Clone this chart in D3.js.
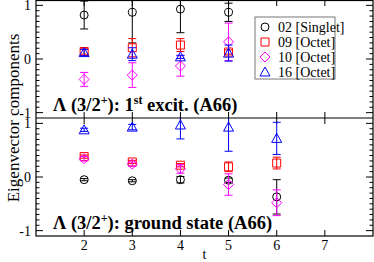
<!DOCTYPE html>
<html>
<head>
<meta charset="utf-8">
<script src="https://cdn.jsdelivr.net/npm/d3@7"></script>
<style>
  body { margin: 0; background: #fff; }
  text { font-family: "Liberation Serif", "DejaVu Serif", serif; }
</style>
</head>
<body>
<div id="chart"></div>
<script>
//time slices
const tVals = [2, 3, 4, 5, 6];
const xTicks = [2, 3, 4, 5, 6, 7];
const yTicks = [-1, 0, 1];

//series names for legend
const seriesNames = ["02 [Singlet]", "09 [Octet]", "10 [Octet]", "16 [Octet]"];
const seriesColors = ["#000000", "#ff0000", "#ff00ff", "#0000ff"];
const seriesShapes = ["circle", "square", "diamond", "triangle"];

//top panel: 1st excited state (no t=6 point)
const excit02 = [0.82, 0.87, 0.93, 0.87];
const excit02Err = [0.26, 0.57, 0.44, 0.17];
const excit09 = [0.14, 0.21, 0.26, 0.13];
const excit09Err = [0.05, 0.17, 0.12, 0.04];
const excit10 = [-0.38, -0.30, -0.13, 0.32];
const excit10Err = [0.13, 0.23, 0.19, 0.35];
const excit16 = [0.12, 0.09, 0.04, 0.11];
const excit16Err = [0.06, 0.12, 0.03, 0.15];

//bottom panel: ground state
const ground02 = [-0.05, -0.07, -0.05, -0.06, -0.37];
const ground02Err = [0.02, 0.02, 0.06, 0.04, 0.32];
const ground09 = [0.38, 0.28, 0.22, 0.19, 0.26];
const ground09Err = [0.03, 0.03, 0.03, 0.09, 0.11];
const ground10 = [0.34, 0.24, 0.15, -0.14, -0.48];
const ground10Err = [0.04, 0.04, 0.08, 0.20, 0.24];
const ground16 = [0.88, 0.93, 0.97, 0.93, 0.72];
const ground16Err = [0.03, 0.05, 0.26, 0.45, 0.30];

const W = 374, H = 262;
const plotLeft = 36, plotRight = 373, plotTop = 0, plotMid = 118, plotBottom = 236;

var svg = d3.select("#chart").append("svg")
    .attr("width", W)
    .attr("height", H);

var x = d3.scaleLinear().domain([1, 8]).range([plotLeft, plotRight]);

//build one panel
function drawPanel(id, y0, y1, series, errs, label) {
    var y = d3.scaleLinear().domain([-1.1, 1.1]).range([y1, y0]);
    var g = svg.append("g");

    svg.append("clipPath").attr("id", id)
        .append("rect")
        .attr("x", plotLeft).attr("y", y0)
        .attr("width", plotRight - plotLeft).attr("height", y1 - y0);

    //minor y ticks every 0.1, both sides
    var minor = d3.range(-10, 11).map(d => d / 10);
    minor.forEach(function (v) {
        var major = yTicks.indexOf(v) >= 0;
        var len = major ? 7 : 3.5;
        g.append("line").attr("x1", plotLeft).attr("x2", plotLeft + len)
            .attr("y1", y(v)).attr("y2", y(v))
            .attr("stroke", "#000").attr("stroke-width", 1);
        g.append("line").attr("x1", plotRight).attr("x2", plotRight - len)
            .attr("y1", y(v)).attr("y2", y(v))
            .attr("stroke", "#000").attr("stroke-width", 1);
    });

    //x ticks top and bottom of panel
    xTicks.forEach(function (t) {
        g.append("line").attr("x1", x(t)).attr("x2", x(t))
            .attr("y1", y0).attr("y2", y0 + 6)
            .attr("stroke", "#000");
        g.append("line").attr("x1", x(t)).attr("x2", x(t))
            .attr("y1", y1).attr("y2", y1 - 6)
            .attr("stroke", "#000");
    });

    //y tick labels
    g.selectAll("text.ytick")
        .data(yTicks)
        .enter()
        .append("text")
        .attr("class", "ytick")
        .attr("x", plotLeft - 5)
        .attr("y", d => y(d) + 5)
        .attr("text-anchor", "end")
        .attr("font-size", 14)
        .text(d => d == -1 ? "-1" : d);

    //panel label
    g.append("text")
        .attr("x", 53)
        .attr("y", y1 - 7)
        .attr("font-size", 18.5)
        .attr("font-family", "'Liberation Serif', serif")
        .attr("font-weight", "bold")
        .html(label);

    //error bars and markers
    var pg = g.append("g").attr("clip-path", "url(#" + id + ")");
    series.forEach(function (vals, s) {
        var col = seriesColors[s];
        vals.forEach(function (v, i) {
            var t = tVals[i];
            var e = errs[s][i];
            var cx = x(t);
            pg.append("line").attr("x1", cx).attr("x2", cx)
                .attr("y1", y(v + e)).attr("y2", y(v - e))
                .attr("stroke", col).attr("stroke-width", 1);
            [v + e, v - e].forEach(function (c) {
                pg.append("line").attr("x1", cx - 4).attr("x2", cx + 4)
                    .attr("y1", y(c)).attr("y2", y(c))
                    .attr("stroke", col).attr("stroke-width", 1);
            });
            drawMarker(pg, seriesShapes[s], cx, y(v), col);
        });
    });
}

function drawMarker(g, shape, cx, cy, col) {
    var p;
    if (shape == "circle") {
        g.append("circle").attr("cx", cx).attr("cy", cy).attr("r", 4)
            .attr("fill", "none").attr("stroke", col);
        return;
    }
    if (shape == "square") {
        p = `M${cx - 4},${cy - 4}h8v8h-8z`;
    } else if (shape == "diamond") {
        p = `M${cx},${cy - 5}L${cx + 5},${cy}L${cx},${cy + 5}L${cx - 5},${cy}z`;
    } else {
        p = `M${cx},${cy - 5}L${cx + 5},${cy + 4}L${cx - 5},${cy + 4}z`;
    }
    g.append("path").attr("d", p).attr("fill", "none").attr("stroke", col);
}

drawPanel("clipTop", plotTop, plotMid,
    [excit02, excit09, excit10, excit16],
    [excit02Err, excit09Err, excit10Err, excit16Err],
    'Λ (3/2<tspan dy="-7" font-size="12">+</tspan><tspan dy="7">): 1</tspan><tspan dy="-7" font-size="12">st</tspan><tspan dy="7"> excit. (A66)</tspan>');
drawPanel("clipBot", plotMid, plotBottom,
    [ground02, ground09, ground10, ground16],
    [ground02Err, ground09Err, ground10Err, ground16Err],
    'Λ (3/2<tspan dy="-7" font-size="12">+</tspan><tspan dy="7">): ground state (A66)</tspan>');

//frame
svg.append("rect")
    .attr("x", plotLeft).attr("y", plotTop + 0.5)
    .attr("width", plotRight - plotLeft).attr("height", plotBottom - plotTop - 0.5)
    .attr("fill", "none").attr("stroke", "#000").attr("stroke-width", 1.2);
svg.append("line")
    .attr("x1", plotLeft).attr("x2", plotRight).attr("y1", plotMid).attr("y2", plotMid)
    .attr("stroke", "#000").attr("stroke-width", 1.2);

//x tick labels
svg.selectAll("text.xtick")
    .data(xTicks)
    .enter()
    .append("text")
    .attr("class", "xtick")
    .attr("x", d => x(d))
    .attr("y", plotBottom + 14)
    .attr("text-anchor", "middle")
    .attr("font-size", 14)
    .text(d => d);

//axis labels
svg.append("text")
    .attr("x", x(4.5))
    .attr("y", 259)
    .attr("text-anchor", "middle")
    .attr("font-size", 14)
    .text("t");
svg.append("text")
    .attr("transform", `translate(19, ${(plotTop + plotBottom) / 2}) rotate(-90)`)
    .attr("text-anchor", "middle")
    .attr("font-size", 17)
    .text("Eigenvector components");

//legend
var lg = svg.append("g");
lg.append("rect")
    .attr("x", 255).attr("y", 17)
    .attr("width", 80).attr("height", 62)
    .attr("fill", "#fff").attr("stroke", "#777").attr("stroke-width", 1);
seriesNames.forEach(function (name, i) {
    var ly = 27 + i * 15;
    drawMarker(lg, seriesShapes[i], 265, ly, seriesColors[i]);
    lg.append("text")
        .attr("x", 278)
        .attr("y", ly + 5)
        .attr("font-size", 14)
        .text(name);
});
</script>
</body>
</html>
